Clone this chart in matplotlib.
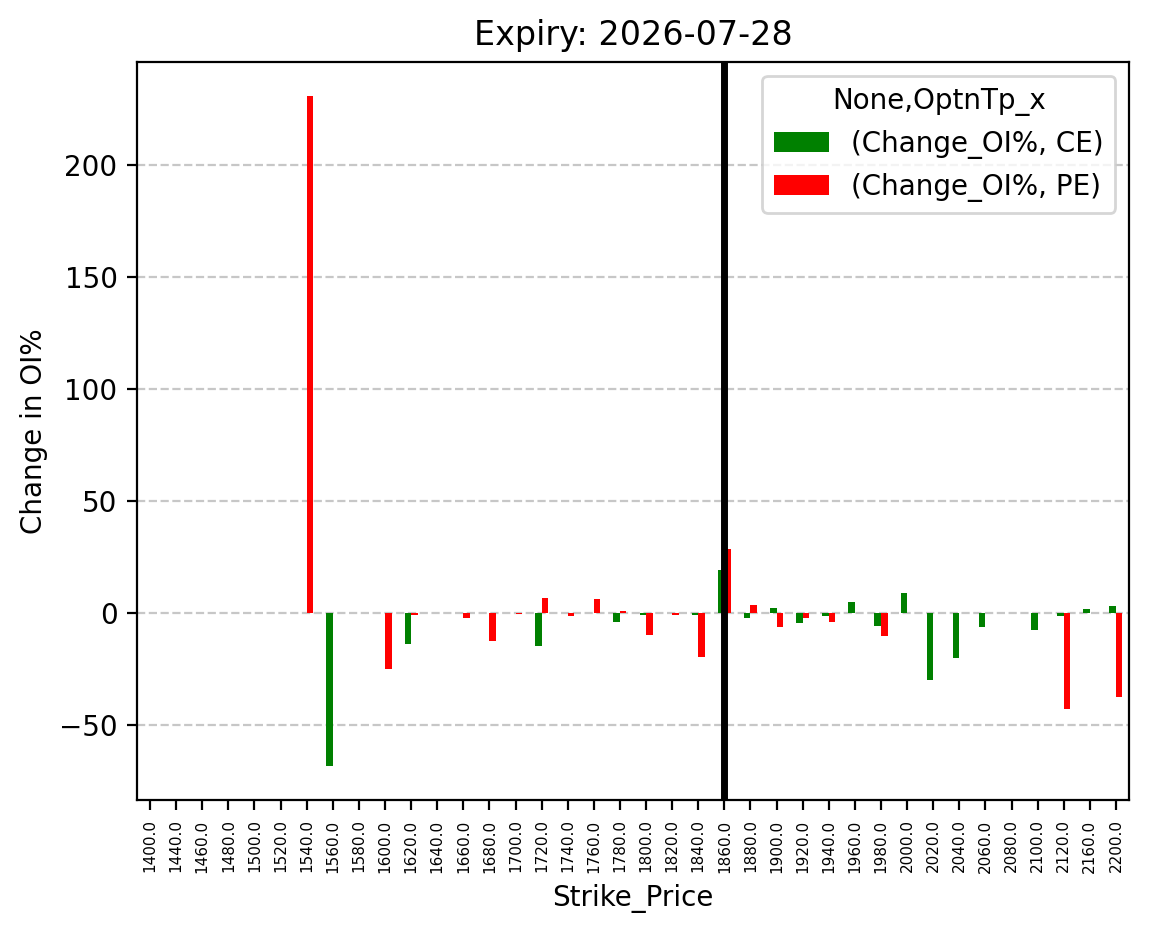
import numpy as np
import pandas as pd
import matplotlib
matplotlib.use('Agg')
import matplotlib.pyplot as plt

# strike prices and change in OI% per option type (NaN = no bar)
strikes = [1400.0, 1440.0, 1460.0, 1480.0, 1500.0, 1520.0, 1540.0, 1560.0, 1580.0, 1600.0,
           1620.0, 1640.0, 1660.0, 1680.0, 1700.0, 1720.0, 1740.0, 1760.0, 1780.0, 1800.0,
           1820.0, 1840.0, 1860.0, 1880.0, 1900.0, 1920.0, 1940.0, 1960.0, 1980.0, 2000.0,
           2020.0, 2040.0, 2060.0, 2080.0, 2100.0, 2120.0, 2160.0, 2200.0]
nan = np.nan
ce_change = [nan, nan, nan, nan, nan, nan, nan, -68.6, nan, nan,
             -14.1, nan, nan, nan, nan, -14.6, nan, nan, -3.9, -1.0,
             nan, -1.0, 19.2, -2.5, 2.2, -4.5, -1.3, 4.9, -5.8, 8.9,
             -29.9, -20.1, -6.25, nan, -7.6, -1.3, 1.8, 3.1]
pe_change = [nan, nan, nan, nan, nan, nan, 231.0, nan, nan, -25.0,
             -0.8, nan, -2.1, -12.5, -0.4, 6.7, -1.6, 6.25, 0.9, -9.7,
             -1.0, -19.5, 28.6, 3.6, -6.25, -2.5, -4.0, nan, -10.3, nan,
             nan, nan, nan, nan, nan, -42.9, nan, -37.5]
spot_strike = 1860.0

cols = pd.MultiIndex.from_tuples([('Change_OI%', 'CE'), ('Change_OI%', 'PE')],
                                 names=[None, 'OptnTp_x'])
df = pd.DataFrame(np.column_stack([ce_change, pe_change]),
                  index=pd.Index(strikes, name='Strike_Price'), columns=cols)

fig, ax = plt.subplots(figsize=(5.745, 4.695), dpi=200)
fig.subplots_adjust(left=137/1149, right=1129/1149, top=1-62/939, bottom=1-800/939)

df.plot(kind='bar', ax=ax, color=['green', 'red'])
ax.axvline(x=strikes.index(spot_strike), color='black', linewidth=2.5)
ax.grid(axis='y', linestyle='--', alpha=0.7)
ax.set_axisbelow(True)
ax.set_title('Expiry: 2026-07-28')
ax.set_ylabel('Change in OI%')
ax.tick_params(axis='x', labelsize=5.5)

fig.savefig('out.png', dpi=200)
